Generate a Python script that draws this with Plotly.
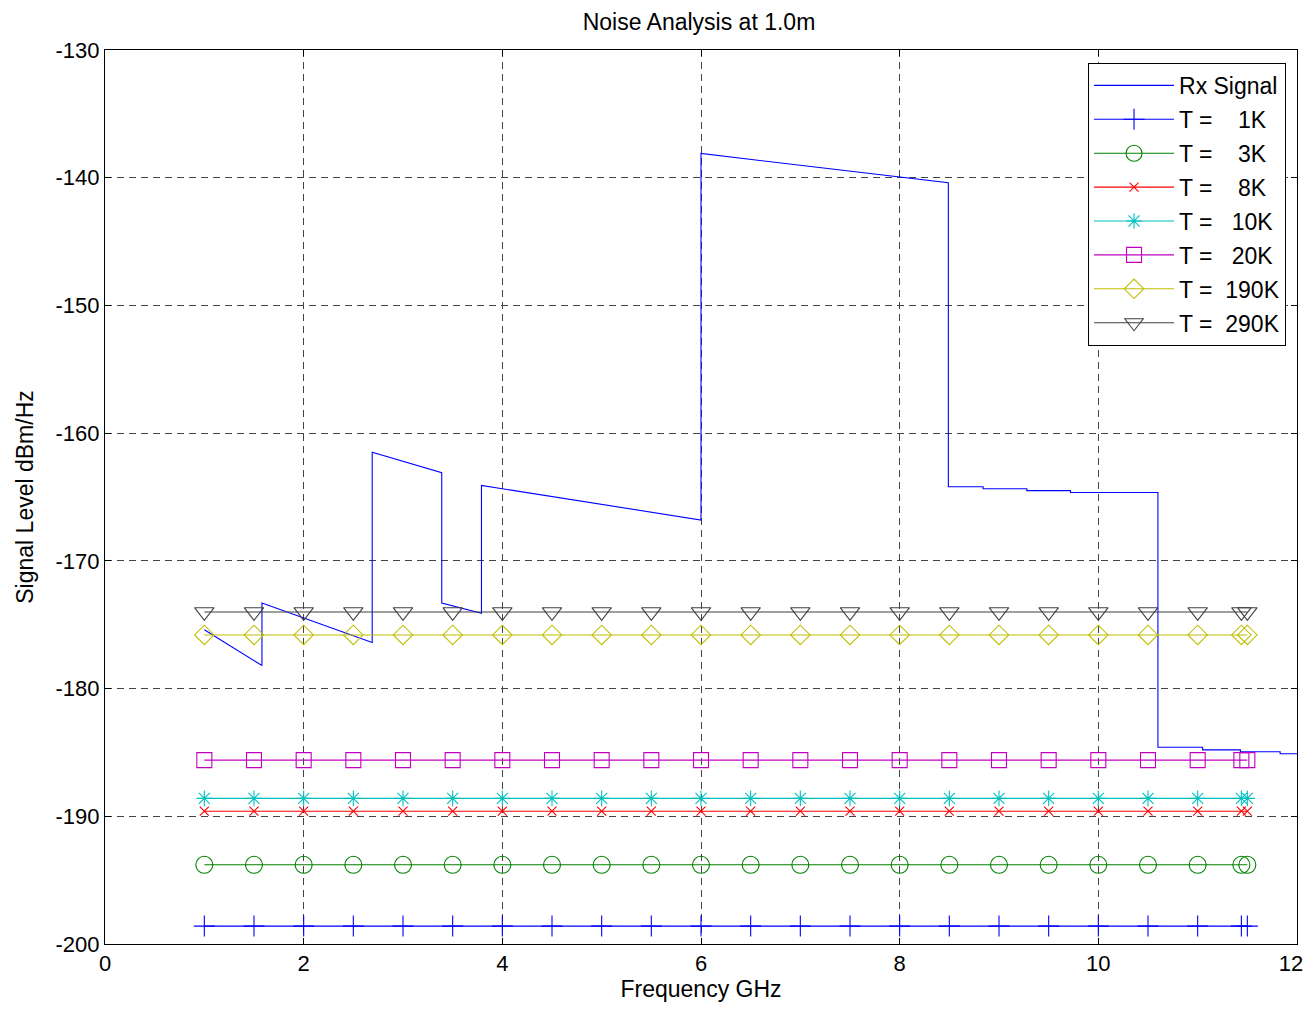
import plotly.graph_objects as go

# Rx signal (GHz, dBm/Hz)
rx_freq = [1.0, 1.58, 1.58, 2.69, 2.69, 3.39, 3.39, 3.79, 3.79, 6.0, 6.0, 8.49,
           8.49, 8.84, 8.84, 9.28, 9.28, 9.72, 9.72, 10.6, 10.6, 11.05, 11.05,
           11.43, 11.43, 11.83, 11.83, 12.0]
rx_level = [-175.4, -178.2, -173.3, -176.4, -161.5, -163.1, -173.3, -174.1,
            -164.1, -166.8, -138.1, -140.4, -164.2, -164.2, -164.35, -164.35,
            -164.5, -164.5, -164.65, -164.65, -184.6, -184.6, -184.8, -184.8,
            -184.95, -184.95, -185.1, -185.1]

# Noise floor lines
noise_freq = [1.0, 1.5, 2.0, 2.5, 3.0, 3.5, 4.0, 4.5, 5.0, 5.5, 6.0, 6.5, 7.0,
              7.5, 8.0, 8.5, 9.0, 9.5, 10.0, 10.5, 11.0, 11.44, 11.5]
temps = [1, 3, 8, 10, 20, 190, 290]
noise_level = [-198.6, -193.8, -189.6, -188.6, -185.6, -175.8, -174.0]
NB = "\u00a0"
legend_labels = ["T =" + NB * 4 + "1K", "T =" + NB * 4 + "3K",
                 "T =" + NB * 4 + "8K", "T =" + NB * 3 + "10K",
                 "T =" + NB * 3 + "20K", "T =" + NB * 2 + "190K",
                 "T =" + NB * 2 + "290K"]

x_ticks = [0, 2, 4, 6, 8, 10, 12]
x_ticktext = ["0", "2", "4", "6", "8", "10", "12" + NB * 2]
y_ticks = [-200, -190, -180, -170, -160, -150, -140, -130]
y_ticktext = ["-200", "-190", "-180", "-170", "-160", "-150", "-140", "-130"]

colors = ["#0000ff", "#008000", "#ff0000", "#00bfbf", "#bf00bf", "#bfbf00", "#404040"]
symbols = ["cross-thin-open", "circle-open", "x-thin-open", "asterisk-open",
           "square-open", "diamond-open", "triangle-down-open"]
msizes = [15, 17, 9, 13, 15, 15, 17]

FONT = "Liberation Sans, Arial, sans-serif"

fig = go.Figure()
fig.add_trace(go.Scatter(x=rx_freq, y=rx_level, mode="lines", name="Rx Signal",
                         legendgroup="rx",
                         line=dict(color="#0000ff", width=1.1)))
for i, (lvl, lab, c, s, ms) in enumerate(zip(noise_level, legend_labels, colors, symbols, msizes)):
    fig.add_trace(go.Scatter(
        x=noise_freq, y=[lvl] * len(noise_freq), mode="lines+markers", name=lab,
        legendgroup="g%d" % i,
        line=dict(color=c, width=1.1),
        marker=dict(symbol=s, size=ms, color=c, line=dict(color=c, width=1.1))))

axis_common = dict(
    showline=True, linecolor="black", linewidth=1, mirror="ticks",
    ticks="inside", ticklen=6, tickcolor="black", automargin=False,
    showgrid=True, gridcolor="#444444", griddash="7px,5px", gridwidth=1,
    zeroline=False, tickfont=dict(family=FONT, size=22, color="black"),
)

W, H = 1298, 994
fig.update_layout(
    width=W, height=H,
    margin=dict(l=97, r=9, t=42, b=58),
    paper_bgcolor="white", plot_bgcolor="white",
    font=dict(family=FONT, size=22, color="black"),
    title=dict(text="Noise Analysis at 1.0m", x=691 / W, xanchor="center",
               y=1 - 14 / H, yanchor="middle", font=dict(size=23)),
    xaxis=dict(range=[0, 12], tickvals=x_ticks, ticktext=x_ticktext,
               ticklabeloverflow="allow",
               title=dict(text="Frequency GHz", standoff=16, font=dict(size=23)),
               **axis_common),
    yaxis=dict(range=[-200, -130], tickvals=y_ticks, ticktext=y_ticktext,
               title=dict(text="Signal Level dBm/Hz", standoff=15, font=dict(size=23)),
               **axis_common),
    legend=dict(x=0.9908, xanchor="right", y=0.9855, yanchor="top",
                bgcolor="white", bordercolor="black", borderwidth=1,
                font=dict(size=23), itemwidth=80, tracegroupgap=1),
    showlegend=True,
)

fig.write_html("out.html")
